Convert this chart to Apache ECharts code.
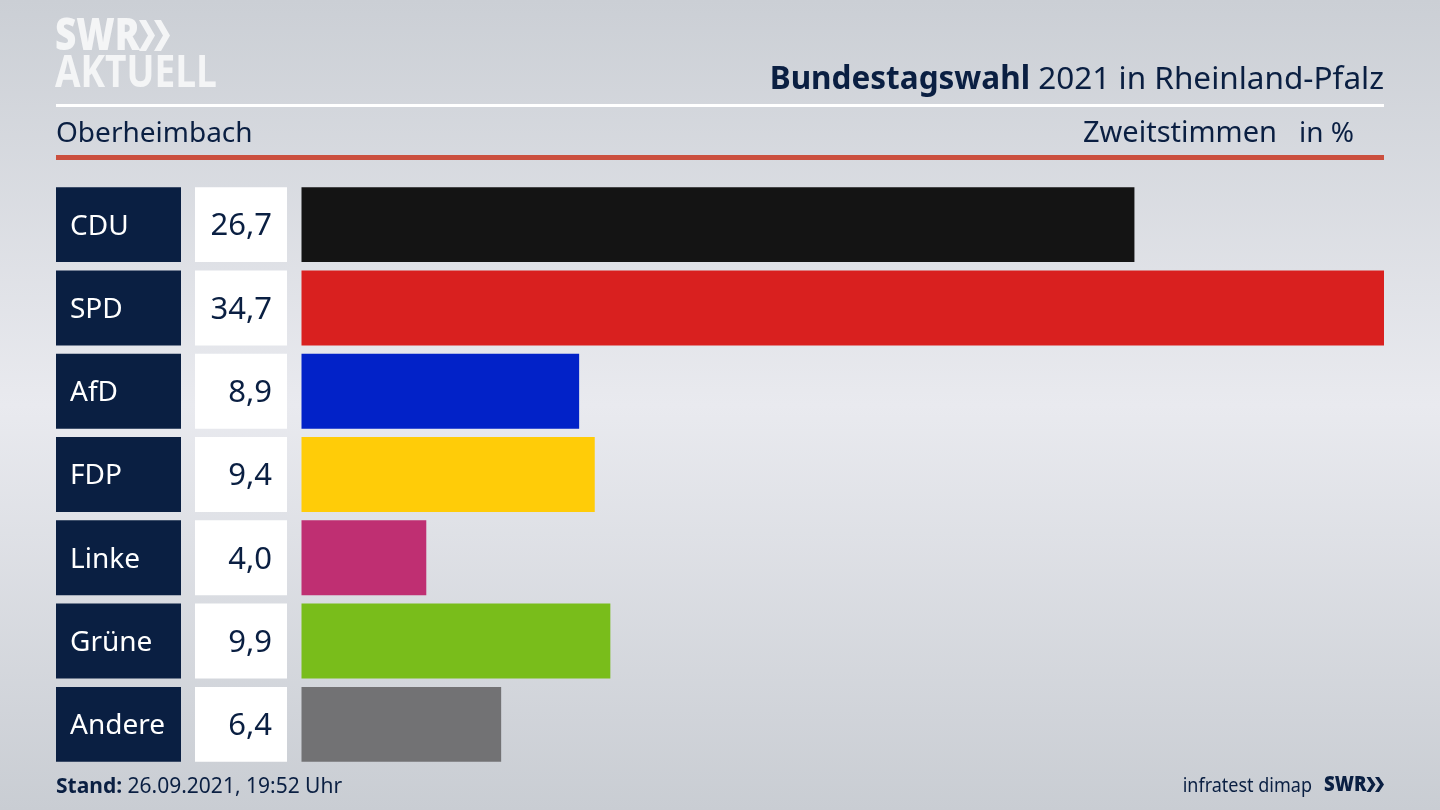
<!DOCTYPE html>
<html lang="de">
<head>
  <meta charset="UTF-8">
  <title>Bundestagswahl 2021 in Rheinland-Pfalz - Oberheimbach</title>
  <script src="https://cdn.jsdelivr.net/npm/echarts@6/dist/echarts.min.js"></script>
  <style>
    html, body { margin: 0; padding: 0; width: 100%; height: 100%; overflow: hidden; }
    #chart { width: 1440px; height: 810px; }
  </style>
</head>
<body>
<div id="chart"></div>
<script>
  // Daten
  const parties = ['CDU', 'SPD', 'AfD', 'FDP', 'Linke', 'Grüne', 'Andere'];
  const shares = [26.7, 34.7, 8.9, 9.4, 4.0, 9.9, 6.4];
  const partyColors = ['#141414', '#d9201f', '#0222c8', '#ffcc08', '#bf2f72', '#79bd1b', '#727274'];

  const NAVY = '#0a1f42';
  const LOGO = '#f4f5f6';
  const FONT = '"Noto Sans", sans-serif';
  const LOGO_FONT = '"Open Sans", sans-serif';

  const chart = echarts.init(document.getElementById('chart'));

  // Kaestchen links neben den Balken (Partei + Wert)
  function renderBoxes(params, api) {
    const idx = api.value(0);
    const p = api.coord([0, idx]);
    const h = api.size([0, 1])[1] * 0.9;
    const top = p[1] - h / 2;
    return {
      type: 'group',
      children: [
        { type: 'rect', shape: { x: 56, y: top, width: 125, height: h }, style: { fill: NAVY } },
        { type: 'rect', shape: { x: 195, y: top, width: 92, height: h }, style: { fill: '#fff' } },
        { type: 'text', style: { x: 70, y: p[1] + 2, text: parties[idx], fill: '#fff', font: '28px ' + FONT, textAlign: 'left', textVerticalAlign: 'middle' } },
        { type: 'text', style: { x: 272, y: p[1] + 2, text: shares[idx].toFixed(1).replace('.', ','), fill: NAVY, font: '31px ' + FONT, textAlign: 'right', textVerticalAlign: 'middle' } }
      ]
    };
  }

  function chevrons(x, y, w, h, gap, t, fill) {
    // Doppelpfeil im SWR Logo
    return [0, 1].map(i => ({
      type: 'polygon',
      shape: { points: [
        [x + i * gap, y], [x + i * gap + t, y], [x + i * gap + t + w, y + h / 2],
        [x + i * gap + t, y + h], [x + i * gap, y + h], [x + i * gap + w, y + h / 2]
      ] },
      style: { fill: fill }
    }));
  }

  function txt(x, y, text, size, opts, scaleY) {
    return {
      type: 'text',
      x: x, y: y,
      scaleY: scaleY || 1,
      style: Object.assign({
        text: text, fill: NAVY, fontFamily: FONT, fontSize: size,
        textAlign: 'left', textVerticalAlign: 'middle'
      }, opts || {})
    };
  }

  const option = {
    animation: false,
    backgroundColor: {
      type: 'linear', x: 0, y: 0, x2: 0, y2: 1,
      colorStops: [
        { offset: 0, color: '#cbcfd5' },
        { offset: 0.5, color: '#e9eaef' },
        { offset: 1, color: '#c9cdd3' }
      ]
    },
    grid: { left: 301.5, top: 183, width: 1082.5, height: 583 },
    xAxis: { type: 'value', min: 0, max: 34.7, show: false },
    yAxis: { type: 'category', data: parties, inverse: true, show: false },
    series: [
      {
        type: 'bar',
        barCategoryGap: '10%',
        data: shares.map((v, i) => ({ value: v, itemStyle: { color: partyColors[i] } })),
        silent: true
      },
      {
        type: 'custom',
        clip: false,
        silent: true,
        renderItem: renderBoxes,
        encode: { x: 1, y: 0 },
        data: parties.map((p, i) => [i, 0])
      }
    ],
    graphic: [
      // Logo
      txt(55, 37, 'SWR', 37, { fill: LOGO, fontWeight: 800, fontFamily: LOGO_FONT }, 1.2),
      ...chevrons(139, 20, 9, 31, 15, 7, LOGO),
      txt(55, 74, 'AKTUELL', 37, { fill: LOGO, fontWeight: 700, fontFamily: LOGO_FONT }, 1.2),
      // Kopf
      txt(1384, 80, '{b|Bundestagswahl} 2021 in Rheinland-Pfalz', 31.5, {
        textAlign: 'right',
        rich: { b: { fontWeight: 'bold', fontSize: 31.5, fontFamily: FONT, fill: NAVY, color: NAVY } }
      }),
      { type: 'rect', shape: { x: 56, y: 104, width: 1328, height: 3 }, style: { fill: '#fff' } },
      txt(56, 134, 'Oberheimbach', 28),
      txt(1277, 134, 'Zweitstimmen', 29, { textAlign: 'right' }),
      txt(1354, 134, 'in %', 28, { textAlign: 'right' }),
      { type: 'rect', shape: { x: 56, y: 155, width: 1328, height: 5 }, style: { fill: '#cb4f3e' } },
      // Fuss
      txt(56, 787, '{b|Stand:} 26.09.2021, 19:52 Uhr', 21, {
        rich: { b: { fontWeight: 'bold', fontSize: 21, fontFamily: FONT, fill: NAVY, color: NAVY } }
      }),
      txt(1312, 786, 'infratest dimap', 18, { textAlign: 'right' }, 1.15),
      txt(1324, 785, 'SWR', 18.5, { fontWeight: 800, fontFamily: LOGO_FONT }, 1.15),
      ...chevrons(1366.5, 777, 5, 15, 8.5, 4, NAVY)
    ]
  };

  chart.setOption(option);
</script>
</body>
</html>
